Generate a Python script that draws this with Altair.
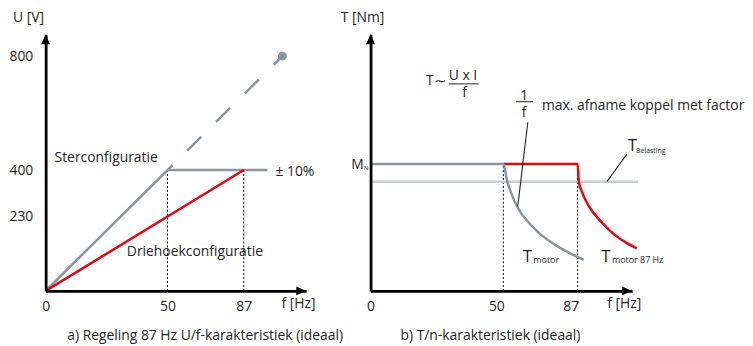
import altair as alt
import pandas as pd

FONT = "Open Sans"
TXT = "#231f20"
GRAY = "#8a949b"
LIGHT = "#c8ced2"
RED = "#e30613"

# ---------------- panel a: U/f characteristic (f in Hz, U in V) ----------------
star_f = [0, 50]
star_u = [0, 400]
star_flat_f = [50, 95]
star_flat_u = [400, 400]
star_ext_f = [50, 100]
star_ext_u = [400, 800]
star_end_f = [100]
star_end_u = [800]
delta_f = [0, 87]
delta_u = [0, 400]
a_guide_f = [50, 87]
a_guide_base = [0, 0]
a_guide_top = [400, 400]
a_x_ticks = [0, 50, 87]
a_y_ticks = [230, 400, 800]

# ---------------- panel b: T/n characteristic (f in Hz, T in % of M_N) ----------------
motor_f = [0, 50, 52.0, 53.9, 57.2, 62.1, 68.6, 76.8, 85.2, 89.6]
motor_t = [100, 100, 86.0, 77.2, 65.5, 54.8, 44.5, 35.3, 28.1, 24.4]
motor87_f = [50, 87, 87.5, 89.0, 91.8, 96.8, 102.4, 108.0, 112.0]
motor87_t = [100, 100, 86.0, 77.2, 66.5, 54.8, 44.5, 37.4, 33.5]
load_f = [0, 112.5]
load_t = [86, 86]
b_guide_f = [50, 87]
b_guide_base = [0, 0]
b_guide_top = [100, 100]
b_x_ticks = [0, 50, 87]
leader_1f_f = [62.2, 57.2]
leader_1f_t = [132.8, 66.5]
leader_load_f = [107.8, 99.4]
leader_load_t = [107.6, 86]

# ---------------- scales & axes ----------------
xs_a = alt.Scale(domain=[0, 50, 87, 108], range=[0, 123, 200, 263], nice=False, zero=False)
ys_a = alt.Scale(domain=[0, 230, 400, 800, 876], range=[259, 184, 137, 22, 0], nice=False, zero=False)
xs_b = alt.Scale(domain=[0, 50, 87, 110], range=[0, 134, 209, 264], nice=False, zero=False)
ys_b = alt.Scale(domain=[0, 202], nice=False, zero=False)

axis_common = dict(title=None, grid=False, ticks=False, domainColor="black", domainWidth=2.8,
                   labelFont=FONT, labelFontSize=14, labelColor=TXT, zindex=1)
ax_a_x = alt.Axis(values=a_x_ticks, labelPadding=9, labelFlush=False, labelOverlap=False,
                  format="d", **axis_common)
ax_a_y = alt.Axis(values=a_y_ticks, labelPadding=13, labelOverlap=False, format="d", **axis_common)
ax_b_x = alt.Axis(values=b_x_ticks, labelPadding=9, labelFlush=False, labelOverlap=False, format="d",
                  labelOffset={"condition": {"test": "datum.value > 0", "value": -7}, "value": 0},
                  **axis_common)
ax_b_y = alt.Axis(labels=False, **axis_common)
AX = {"a": (xs_a, ys_a, ax_a_x, ax_a_y), "b": (xs_b, ys_b, ax_b_x, ax_b_y)}


def series(p, f, v, **mk):
    xs, ys, axx, axy = AX[p]
    df = pd.DataFrame({"f": f, "v": v, "i": list(range(len(f)))})
    return alt.Chart(df).mark_line(**mk).encode(
        x=alt.X("f:Q", scale=xs, axis=axx),
        y=alt.Y("v:Q", scale=ys, axis=axy),
        order="i:Q",
    )


def guides(p, f, lo, hi):
    xs, ys, axx, axy = AX[p]
    return alt.Chart(pd.DataFrame({"f": f, "lo": lo, "hi": hi})).mark_rule(
        strokeDash=[2, 2], strokeWidth=1, color="black"
    ).encode(x=alt.X("f:Q", scale=xs, axis=axx), y=alt.Y("lo:Q", scale=ys, axis=axy), y2="hi:Q")


def label(t, x, y, size=14, align="left", baseline="middle", font=FONT, **kw):
    return alt.Chart(pd.DataFrame({"t": [t]})).mark_text(
        align=align, baseline=baseline, font=font, fontSize=size, color=TXT, **kw
    ).encode(x=alt.value(x), y=alt.value(y), text="t:N")


def hrule(x1, x2, y, width=1.0, color=TXT):
    return alt.Chart(pd.DataFrame({"a": [0]})).mark_rule(color=color, strokeWidth=width).encode(
        x=alt.value(x1), x2=alt.value(x2), y=alt.value(y))


def arrows(w, h):
    up = alt.Chart(pd.DataFrame({"a": [0]})).mark_point(
        shape="M0,-1L0.9,1L-0.9,1Z", filled=True, size=100, color="black", opacity=1
    ).encode(x=alt.value(0), y=alt.value(5))
    right = alt.Chart(pd.DataFrame({"a": [0]})).mark_point(
        shape="M1,0L-1,-0.9L-1,0.9Z", filled=True, size=100, color="black", opacity=1
    ).encode(x=alt.value(w - 5), y=alt.value(h))
    return [up, right]


# ---------------- panel a ----------------
end_dot = alt.Chart(pd.DataFrame({"f": star_end_f, "v": star_end_u})).mark_circle(
    size=80, color=GRAY, opacity=1
).encode(x=alt.X("f:Q", scale=xs_a, axis=ax_a_x), y=alt.Y("v:Q", scale=ys_a, axis=ax_a_y))

anchor = alt.Chart(pd.DataFrame({"a": [0]})).mark_rule(strokeOpacity=0, strokeWidth=0.5).encode(
    x=alt.value(-37), x2=alt.value(-36), y=alt.value(-25))

panel_a = alt.layer(
    guides("a", a_guide_f, a_guide_base, a_guide_top),
    series("a", star_ext_f, star_ext_u, color=GRAY, strokeWidth=2.5,
           strokeDash=[20, 21], strokeDashOffset=13),
    end_dot,
    series("a", star_f, star_u, color=GRAY, strokeWidth=2.5),
    series("a", star_flat_f, star_flat_u, color=GRAY, strokeWidth=2.5),
    series("a", delta_f, delta_u, color=RED, strokeWidth=2.5),
    *arrows(263, 259),
    label("U [V]", -33, -16),
    label("Sterconfiguratie", 9, 125),
    label("Driehoekconfiguratie", 82, 220),
    label("±  10%", 232, 139),
    label("f [Hz]", 238, 272),
    label("a) Regeling 87 Hz U/f-karakteristiek (ideaal)", 161, 305, align="center"),
    anchor,
).properties(width=263, height=259)

# ---------------- panel b ----------------
panel_b = alt.layer(
    guides("b", b_guide_f, b_guide_base, b_guide_top),
    series("b", load_f, load_t, color=LIGHT, strokeWidth=2.5),
    series("b", motor87_f, motor87_t, color=RED, strokeWidth=2.5, interpolate="monotone"),
    series("b", motor_f, motor_t, color=GRAY, strokeWidth=2.5, interpolate="monotone"),
    series("b", leader_1f_f, leader_1f_t, color=TXT, strokeWidth=1.1),
    series("b", leader_load_f, leader_load_t, color=TXT, strokeWidth=1.1),
    *arrows(264, 259),
    label("T [Nm]", -30, -16),
    label("M", -7, 136, size=14, align="right", baseline="alphabetic"),
    label("N", -6.5, 136.5, size=6, baseline="alphabetic"),
    label("T", 56, 47),
    label("\u223c", 64, 47, size=15, font="DejaVu Sans"),
    label("U x I", 79, 42),
    hrule(79, 109, 50),
    label("f", 95, 59, align="center"),
    label("1", 155, 62, align="center"),
    hrule(147, 164, 68),
    label("f", 155, 79, align="center"),
    label("max. afname koppel met factor", 173, 72),
    label("T", 259.7, 118, size=17, baseline="alphabetic"),
    label("Belasting", 268, 119.5, size=7, baseline="alphabetic"),
    label("T", 153.7, 230.3, size=17, baseline="alphabetic"),
    label("motor", 164.3, 231, size=9, baseline="alphabetic"),
    label("T", 233, 230.3, size=17, baseline="alphabetic"),
    label("motor 87 Hz", 243.7, 231, size=9, baseline="alphabetic"),
    label("f [Hz]", 239, 272),
    label("b) T/n-karakteristiek (ideaal)", 121, 305, align="center"),
).properties(width=264, height=259)

chart = alt.hconcat(panel_a, panel_b, spacing=65, bounds="flush").properties(
    padding=0
).configure_view(stroke=None)

chart.save("out.html", embed_options={"renderer": "svg", "actions": False})
